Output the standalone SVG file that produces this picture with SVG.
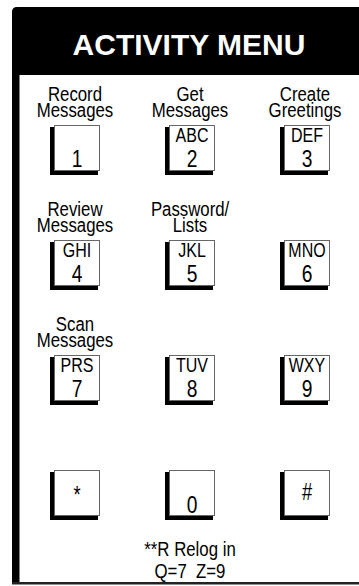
<svg xmlns="http://www.w3.org/2000/svg" width="359" height="586" viewBox="0 0 359 586">
<style>
.t{font-family:"Liberation Sans",Arial,sans-serif;fill:#000;text-anchor:middle;transform-box:fill-box;transform-origin:center;transform:scaleX(0.8)}
.lbl{font-size:21px}
.let{font-size:20px}
.dig{font-size:24px}
.sym{font-size:23px}
.title{font-family:"Liberation Sans",Arial,sans-serif;font-weight:bold;font-size:30px;fill:#fff;text-anchor:middle}
.shadow{fill:#000}
.face{fill:#fff;stroke:#666;stroke-width:1}
</style>
<g id="frame">
<path d="M12,12 Q12,7 17,7 L359,7 L359,75 L19.5,75 L19.5,584 L12,584 Z" fill="#000"/>
<rect x="12" y="582" width="347" height="2.5" fill="#222"/>
<text class="title" x="189" y="55">ACTIVITY MENU</text>
</g>
<g id="connectors"/>
<g id="key1"><text class="t lbl" x="75" y="101">Record</text><text class="t lbl" x="75" y="117">Messages</text><rect class="shadow" x="50" y="127" width="48" height="48"/><rect class="face" x="54.5" y="125.5" width="45" height="45"/><text class="t dig" x="77" y="167">1</text></g>
<g id="key2"><text class="t lbl" x="190" y="101">Get</text><text class="t lbl" x="190" y="117">Messages</text><rect class="shadow" x="165" y="127" width="48" height="48"/><rect class="face" x="169.5" y="125.5" width="45" height="45"/><text class="t let" x="192" y="142">ABC</text><text class="t dig" x="192" y="167">2</text></g>
<g id="key3"><text class="t lbl" x="305" y="101">Create</text><text class="t lbl" x="305" y="117">Greetings</text><rect class="shadow" x="280" y="127" width="48" height="48"/><rect class="face" x="284.5" y="125.5" width="45" height="45"/><text class="t let" x="307" y="142">DEF</text><text class="t dig" x="307" y="167">3</text></g>
<g id="key4"><text class="t lbl" x="75" y="216">Review</text><text class="t lbl" x="75" y="232">Messages</text><rect class="shadow" x="50" y="242" width="48" height="48"/><rect class="face" x="54.5" y="240.5" width="45" height="45"/><text class="t let" x="77" y="257">GHI</text><text class="t dig" x="77" y="282">4</text></g>
<g id="key5"><text class="t lbl" x="190" y="216">Password/</text><text class="t lbl" x="190" y="232">Lists</text><rect class="shadow" x="165" y="242" width="48" height="48"/><rect class="face" x="169.5" y="240.5" width="45" height="45"/><text class="t let" x="192" y="257">JKL</text><text class="t dig" x="192" y="282">5</text></g>
<g id="key6"><rect class="shadow" x="280" y="242" width="48" height="48"/><rect class="face" x="284.5" y="240.5" width="45" height="45"/><text class="t let" x="307" y="257">MNO</text><text class="t dig" x="307" y="282">6</text></g>
<g id="key7"><text class="t lbl" x="75" y="331">Scan</text><text class="t lbl" x="75" y="347">Messages</text><rect class="shadow" x="50" y="357" width="48" height="48"/><rect class="face" x="54.5" y="355.5" width="45" height="45"/><text class="t let" x="77" y="372">PRS</text><text class="t dig" x="77" y="397">7</text></g>
<g id="key8"><rect class="shadow" x="165" y="357" width="48" height="48"/><rect class="face" x="169.5" y="355.5" width="45" height="45"/><text class="t let" x="192" y="372">TUV</text><text class="t dig" x="192" y="397">8</text></g>
<g id="key9"><rect class="shadow" x="280" y="357" width="48" height="48"/><rect class="face" x="284.5" y="355.5" width="45" height="45"/><text class="t let" x="307" y="372">WXY</text><text class="t dig" x="307" y="397">9</text></g>
<g id="keystar"><rect class="shadow" x="50" y="472" width="48" height="48"/><rect class="face" x="54.5" y="470.5" width="45" height="45"/><text class="t sym" x="77" y="503">*</text></g>
<g id="key0"><rect class="shadow" x="165" y="472" width="48" height="48"/><rect class="face" x="169.5" y="470.5" width="45" height="45"/><text class="t dig" x="192" y="513">0</text></g>
<g id="keyhash"><rect class="shadow" x="280" y="472" width="48" height="48"/><rect class="face" x="284.5" y="470.5" width="45" height="45"/><text class="t sym" x="307" y="500">#</text></g>
<g id="note"><text class="t lbl" x="190" y="556">**R Relog in</text><text class="t lbl" x="190" y="578" style="white-space:pre">Q=7  Z=9</text></g>
</svg>
